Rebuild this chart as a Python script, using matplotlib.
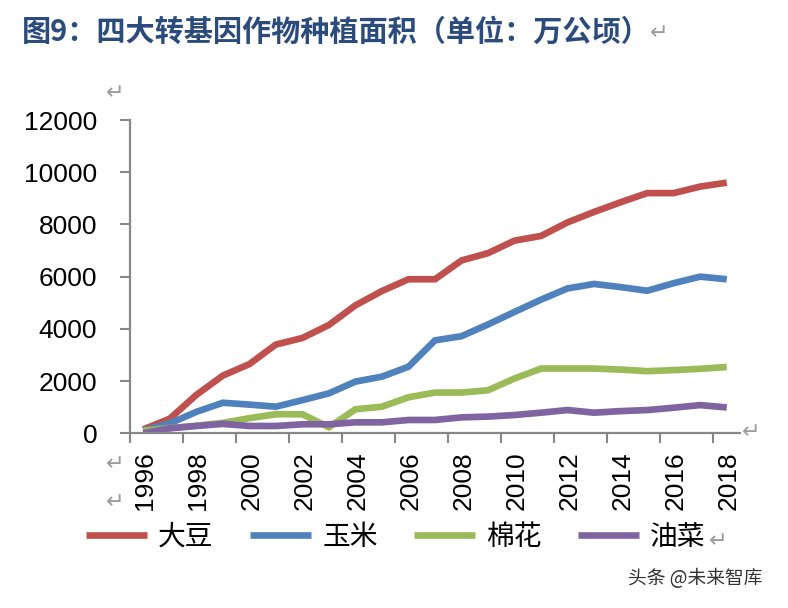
import matplotlib
matplotlib.use("Agg")
import matplotlib.pyplot as plt
import numpy as np

years = list(range(1996, 2019))
soybean = [150, 560, 1470, 2210, 2650, 3400, 3650, 4150, 4900, 5450, 5900, 5900,
           6620, 6900, 7380, 7560, 8080, 8480, 8850, 9200, 9200, 9450, 9600]
maize = [100, 380, 820, 1170, 1100, 1020, 1270, 1530, 1980, 2170, 2550, 3560,
         3720, 4170, 4650, 5120, 5550, 5720, 5600, 5460, 5750, 6000, 5900]
cotton = [100, 200, 290, 400, 580, 730, 730, 230, 920, 1020, 1380, 1560,
          1560, 1650, 2100, 2480, 2480, 2480, 2440, 2380, 2420, 2470, 2540]
rapeseed = [0, 190, 280, 360, 280, 280, 345, 345, 420, 420, 510, 510,
            610, 640, 700, 790, 890, 790, 850, 890, 980, 1080, 990]
series_names = ["大豆", "玉米", "棉花", "油菜"]
colors = ["#C0504D", "#4F81BD", "#9BBB59", "#8064A2"]
yticks = [0, 2000, 4000, 6000, 8000, 10000, 12000]
xlabels = [str(y) for y in years[::2]]

plt.rcParams['font.family'] = ['Liberation Sans', 'DejaVu Sans']
fig = plt.figure(figsize=(7.88, 6.08), dpi=100)
ax = fig.add_axes([130/788, 1-433.3/608, 610/788, (433.3-120)/608])

x = np.arange(len(years))
lines = []
for vals, name, c in zip([soybean, maize, cotton, rapeseed], series_names, colors):
    ln, = ax.plot(x, vals, color=c, lw=4.8, label=name, solid_joinstyle='miter',
                  solid_capstyle='butt')
    lines.append(ln)

ax.set_xlim(-0.5, 22.5)
ax.set_ylim(0, 12000)
ax.set_yticks(yticks)
ax.set_yticklabels([str(v) for v in yticks], fontsize=19)
ax.set_xticks(np.arange(-0.5, 22, 2))
ax.set_xticklabels([])
ax.set_xticks(x[::2] + 0.08, minor=True)
ax.set_xticklabels(xlabels, minor=True, rotation=90, fontsize=19)
ax.tick_params(axis='x', which='minor', length=0, pad=13)
ax.tick_params(axis='x', which='major', length=7, width=1.5, color='#878787', direction='out')
ax.tick_params(axis='y', length=7.5, width=1.5, color='#878787', direction='out', pad=16)

for s in ['top', 'right']:
    ax.spines[s].set_visible(False)
for s in ['left', 'bottom']:
    ax.spines[s].set_color('#878787')
    ax.spines[s].set_linewidth(1.6)

cjk = ['Noto Sans CJK SC', 'DejaVu Sans']
leg = fig.legend(handles=lines, labels=series_names, loc='upper left',
                 bbox_to_anchor=(86/788, 1-522/608), ncol=4, frameon=False,
                 prop={'family': cjk, 'size': 20}, handlelength=2.2,
                 handletextpad=0.4, columnspacing=1.3, borderpad=0, borderaxespad=0)

fig.text(22/788, 1-32/608, "图9：四大转基因作物种植面积（单位：万公顷）", fontsize=21,
         fontweight='bold', color='#2A4B7C', va='center', ha='left', family=cjk)

grey = '#9A9A9A'
fig.text(650/788, 1-33/608, "↵", fontsize=16, color=grey, va='center', family=['DejaVu Sans'])
fig.text(106/788, 1-93/608, "↵", fontsize=16, color=grey, va='center', family=['DejaVu Sans'])
fig.text(742/788, 1-432/608, "↵", fontsize=16, color=grey, va='center', family=['DejaVu Sans'])
fig.text(106/788, 1-464/608, "↵", fontsize=16, color=grey, va='center', family=['DejaVu Sans'])
fig.text(106/788, 1-502/608, "↵", fontsize=16, color=grey, va='center', family=['DejaVu Sans'])
fig.text(709/788, 1-541/608, "↵", fontsize=16, color=grey, va='center', family=['DejaVu Sans'])

fig.text(628/788, 1-578/608, "头条 @未来智库", fontsize=13.5, color='#333333',
         va='center', ha='left', family=cjk)

fig.savefig("out.png", dpi=100)
